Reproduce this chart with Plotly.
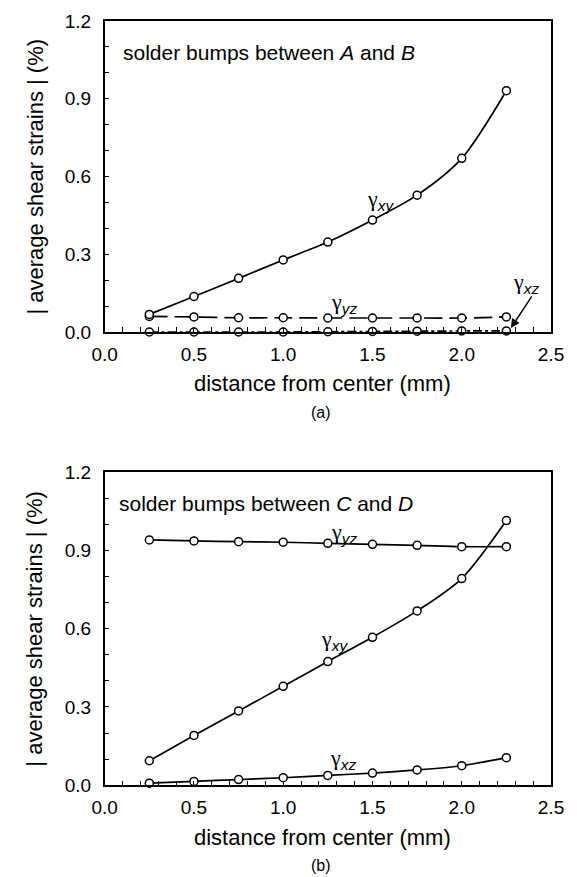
import plotly.graph_objects as go

# ---- data ----
distance_mm = [0.25, 0.50, 0.75, 1.00, 1.25, 1.50, 1.75, 2.00, 2.25]

# (a) solder bumps between A and B
a_gxy = [0.068, 0.137, 0.207, 0.278, 0.347, 0.432, 0.528, 0.670, 0.931]
a_gyz = [0.060, 0.058, 0.055, 0.055, 0.054, 0.054, 0.054, 0.054, 0.058]
a_gxz = [0.000, 0.000, 0.000, 0.000, 0.001, 0.002, 0.003, 0.004, 0.004]

# (b) solder bumps between C and D
b_gxy = [0.094, 0.191, 0.285, 0.379, 0.474, 0.567, 0.668, 0.792, 1.014]
b_gyz = [0.940, 0.936, 0.933, 0.931, 0.927, 0.923, 0.919, 0.914, 0.914]
b_gxz = [0.008, 0.015, 0.022, 0.029, 0.038, 0.047, 0.059, 0.075, 0.106]

x_ticks = [0.0, 0.5, 1.0, 1.5, 2.0, 2.5]
y_ticks = [0.0, 0.3, 0.6, 0.9, 1.2]

W, H = 577, 877
FONT = "Liberation Sans, Arial, sans-serif"


def px(v):
    return v / W


def py(v):
    return 1 - v / H


fig = go.Figure()

marker = dict(symbol="circle", size=8, color="white", line=dict(width=1.5, color="black"))


def add(x, y, ax, dash):
    fig.add_trace(go.Scatter(
        x=x, y=y, mode="lines+markers", xaxis=ax[0], yaxis=ax[1],
        line=dict(color="black", width=1.7, dash=dash, shape="spline", smoothing=0.8),
        marker=marker, showlegend=False, cliponaxis=False))


add(distance_mm, a_gxz, ("x", "y"), "dashdot")
add(distance_mm, a_gyz, ("x", "y"), "18px,7px")
add(distance_mm, a_gxy, ("x", "y"), "solid")
add(distance_mm, b_gxz, ("x2", "y2"), "solid")
add(distance_mm, b_gyz, ("x2", "y2"), "solid")
add(distance_mm, b_gxy, ("x2", "y2"), "solid")

xdom = [px(96.7), px(543.0)]
top_dom = [py(324.0), py(13.0)]
bot_dom = [py(777.3), py(464.0)]

axis_common = dict(
    showline=True, linecolor="black", linewidth=1.5, mirror=True, automargin=False,
    showgrid=False, zeroline=False, ticks="inside", ticklen=5, tickwidth=1.2,
    tickcolor="black", tickfont=dict(family=FONT, size=19, color="black"),
)

xax = dict(axis_common, range=[0, 2.5], tickvals=x_ticks,
           ticktext=[f"{v:.1f}" for v in x_ticks], ticklabelstandoff=4,
           minor=dict(dtick=0.1, tick0=0, ticks="inside", ticklen=5, tickwidth=1.2, tickcolor="black"),
           domain=xdom)
yax = dict(axis_common, range=[0, 1.2], tickvals=y_ticks,
           ticktext=[f"{v:.1f}" for v in y_ticks], ticklabelstandoff=8,
           minor=dict(dtick=0.1, tick0=0, ticks="inside", ticklen=5, tickwidth=1.2, tickcolor="black"))

fig.update_layout(
    template="none",
    width=W, height=H, margin=dict(l=0, r=0, t=0, b=0, autoexpand=False),
    paper_bgcolor="white", plot_bgcolor="white",
    xaxis=dict(xax, anchor="y"),
    yaxis=dict(yax, domain=top_dom, anchor="x"),
    xaxis2=dict(xax, anchor="y2"),
    yaxis2=dict(yax, domain=bot_dom, anchor="x2"),
    font=dict(family=FONT, color="black"),
)

ann = []
GF = "Liberation Serif, Times New Roman, serif"


def gamma(sub, x, y, xr, yr):
    ann.append(dict(text=f"γ<sub><span style='font-family:Liberation Sans'><i>{sub}</i></span></sub>",
                    x=x, y=y, xref=xr, yref=yr,
                    showarrow=False, font=dict(family=GF, size=22, color="black")))


# panel (a)
ann.append(dict(text="solder bumps between <i>A</i> and <i>B</i>", x=0.09, y=1.078,
                xref="x", yref="y", xanchor="left", yanchor="middle", showarrow=False,
                font=dict(family=FONT, size=21)))
gamma("xy", 1.545, 0.51, "x", "y")
gamma("yz", 1.34, 0.11, "x", "y")
gamma("xz", 2.36, 0.19, "x", "y")
ann.append(dict(x=2.275, y=0.015, ax=2.398, ay=0.143, xref="x", yref="y", axref="x", ayref="y",
                text="", showarrow=True, arrowhead=2, arrowsize=1.2, arrowwidth=1.5, arrowcolor="black"))

# panel (b)
ann.append(dict(text="solder bumps between <i>C</i> and <i>D</i>", x=0.07, y=1.08,
                xref="x2", yref="y2", xanchor="left", yanchor="middle", showarrow=False,
                font=dict(family=FONT, size=21)))
gamma("yz", 1.34, 0.966, "x2", "y2")
gamma("xy", 1.29, 0.558, "x2", "y2")
gamma("xz", 1.335, 0.10, "x2", "y2")

# axis titles and panel labels
for ax_bottom, ax_top, lab in [(324.0, 13.0, "(a)"), (777.3, 464.0, "(b)")]:
    ann.append(dict(text="distance from center (mm)", x=px(314), y=py(ax_bottom + 52),
                    xref="paper", yref="paper", showarrow=False, yanchor="middle",
                    font=dict(family=FONT, size=22)))
    ann.append(dict(text=lab, x=px(313), y=py(ax_bottom + 80), xref="paper", yref="paper",
                    showarrow=False, yanchor="middle", font=dict(family=FONT, size=16)))
    ann.append(dict(text="| average shear strains | (%)", x=px(27), y=py((ax_bottom + ax_top) / 2),
                    xref="paper", yref="paper", showarrow=False, textangle=-90,
                    xanchor="center", yanchor="middle", font=dict(family=FONT, size=22)))

fig.update_layout(annotations=ann)

fig.write_html("out.html")
